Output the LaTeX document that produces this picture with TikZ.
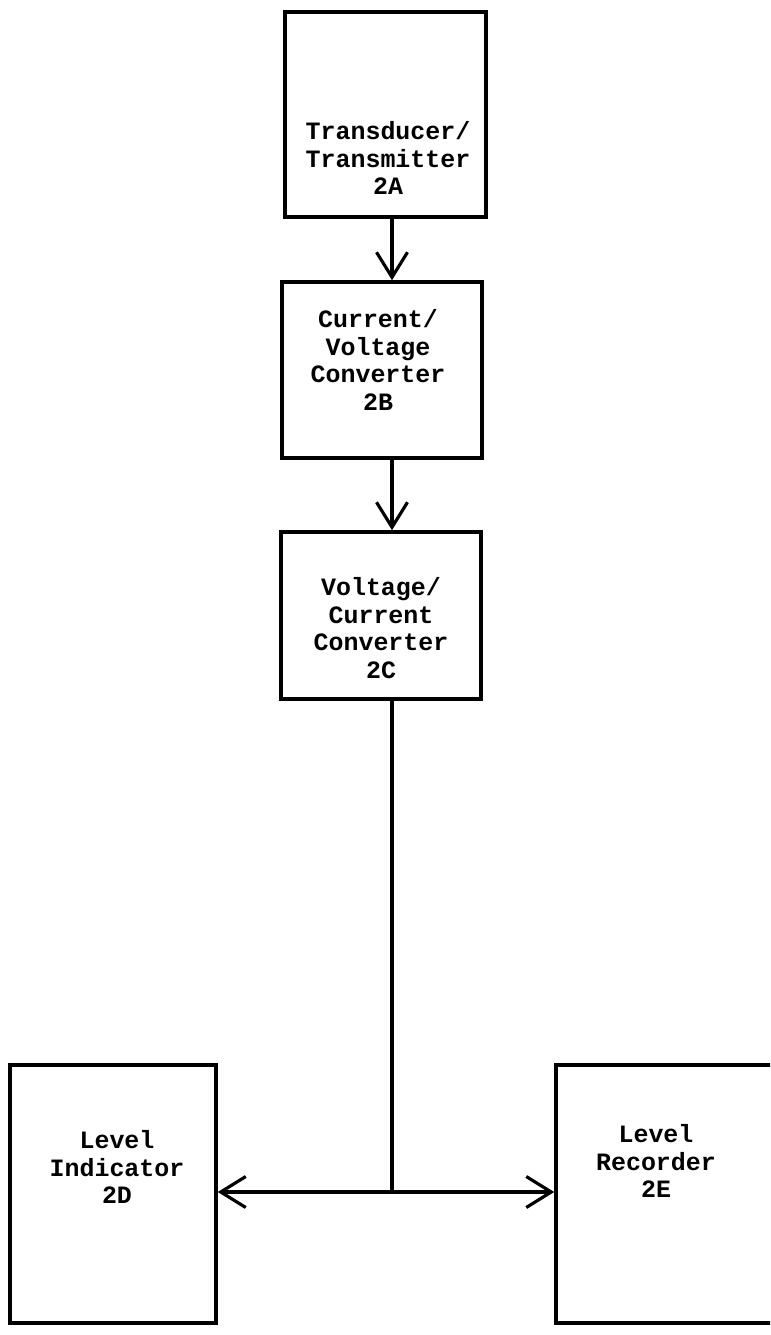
\documentclass[tikz,border=0pt]{standalone}
\usepackage{fontspec}
\setmonofont{Liberation Mono}
\usetikzlibrary{arrows.meta}
\tikzset{
	blok/.style={draw, line width=2pt, inner sep=0pt},
	txt/.style={align=center, font=\ttfamily\bfseries\fontsize{14.2}{15.6}\selectfont},
	pijl/.style={line width=2pt, -{Straight Barb[length=0.5cm, width=0.62cm, line width=1.8pt]}}
}
\begin{document}
\begin{tikzpicture}
		\clip (0,0) rectangle (15.4,-26.7);
		% boxes
		\node[blok, minimum width=4.02cm, minimum height=4.10cm] (ta) at (7.71,-2.29) {};
		\node[blok, minimum width=4.00cm, minimum height=3.52cm] (tb) at (7.64,-7.40) {};
		\node[blok, minimum width=4.00cm, minimum height=3.34cm] (tc) at (7.62,-12.31) {};
		\node[blok, minimum width=4.12cm, minimum height=5.16cm] (td) at (2.26,-23.88) {};
		\node[blok, minimum width=5.00cm, minimum height=5.16cm] (te) at (13.62,-23.88) {};
		% texts
		\node[txt] (la) at (7.76,-3.16) {Transducer/\\Transmitter\\2A};
		\node[txt] (lb) at (7.56,-7.20) {Current/\\Voltage\\Converter\\2B};
		\node[txt] (lc) at (7.62,-12.56) {Voltage/\\Current\\Converter\\2C};
		\node[txt] (ld) at (2.34,-23.34) {Level\\Indicator\\2D};
		\node[txt] (le) at (13.12,-23.22) {Level\\Recorder\\2E};
		% connectors
		\coordinate (jn) at (7.84,-23.84);
		\draw[pijl] (ta.south -| jn) -- (tb.north -| jn);
		\draw[pijl] (tb.south -| jn) -- (tc.north -| jn);
		\draw[line width=2pt] (tc.south -| jn) -- (jn);
		\draw[pijl] (jn) -- (td.east |- jn);
		\draw[pijl] (jn) -- (te.west |- jn);
	\end{tikzpicture}
\end{document}
